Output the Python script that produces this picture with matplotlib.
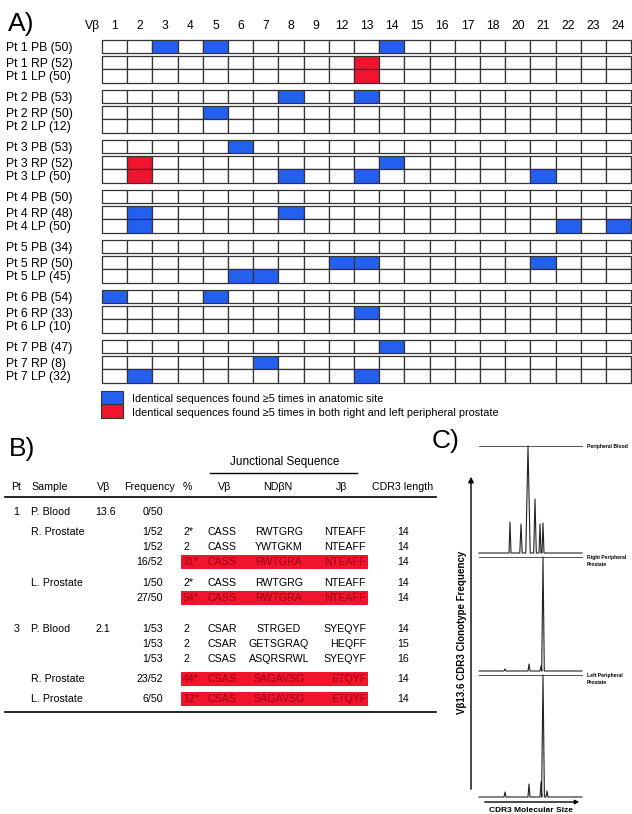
import matplotlib
matplotlib.use("Agg")
import matplotlib.pyplot as plt
from matplotlib.patches import Rectangle

plt.rcParams['font.family'] = ['Liberation Sans', 'DejaVu Sans']

# ---- panel A data ----
vb_labels = ["1", "2", "3", "4", "5", "6", "7", "8", "9", "12", "13", "14",
             "15", "16", "17", "18", "20", "21", "22", "23", "24"]
patients = ["1", "2", "3", "4", "5", "6", "7"]
sites = ["PB", "RP", "LP"]
n_seq = [[50, 52, 50], [53, 50, 12], [53, 52, 50], [50, 48, 50],
         [34, 50, 45], [54, 33, 10], [47, 8, 32]]
# Vβ families with identical sequences >=5 times in the anatomic site
blue_cells = [
    [["3", "5", "14"], [], []],
    [["8", "13"], ["5"], []],
    [["6"], ["14"], ["8", "13", "21"]],
    [[], ["2", "8"], ["2", "22", "24"]],
    [[], ["12", "13", "21"], ["6", "7"]],
    [["1", "5"], ["13"], []],
    [["14"], ["7"], ["2", "13"]],
]
# found in both right and left peripheral prostate
red_cells = [
    [[], ["13"], ["13"]],
    [[], [], []],
    [[], ["2"], ["2"]],
    [[], [], []],
    [[], [], []],
    [[], [], []],
    [[], [], []],
]
legend_labels = ["Identical sequences found \u22655 times in anatomic site",
                 "Identical sequences found \u22655 times in both right and left peripheral prostate"]

# ---- panel B data ----
tb_pt = ["1", "", "", "", "", "", "3", "", "", "", ""]
tb_sample = ["P. Blood", "R. Prostate", "", "", "L. Prostate", "", "P. Blood", "", "",
             "R. Prostate", "L. Prostate"]
tb_vb = ["13.6", "", "", "", "", "", "2.1", "", "", "", ""]
tb_freq = ["0/50", "1/52", "1/52", "16/52", "1/50", "27/50", "1/53", "1/53", "1/53",
           "23/52", "6/50"]
tb_pct = ["", "2*", "2", "31*", "2*", "54*", "2", "2", "2", "44*", "12*"]
tb_jv = ["", "CASS", "CASS", "CASS", "CASS", "CASS", "CSAR", "CSAR", "CSAS", "CSAS", "CSAS"]
tb_nd = ["", "RWTGRG", "YWTGKM", "RWTGRA", "RWTGRG", "RWTGRA", "STRGED", "GETSGRAQ",
         "ASQRSRWL", "SAGAVSG", "SAGAVSG"]
tb_jb = ["", "NTEAFF", "NTEAFF", "NTEAFF", "NTEAFF", "NTEAFF", "SYEQYF", "HEQFF",
         "SYEQYF", "ETQYF", "ETQYF"]
tb_cdr3 = ["", "14", "14", "14", "14", "14", "14", "15", "16", "14", "14"]
tb_shared = [False, False, False, True, False, True, False, False, False, True, True]

# ---- panel C data (peak position, height, half width) ----
pb_peaks = [(510, 31, 1.0), (521, 29, 1.2), (528, 107, 2.2), (535, 54, 1.3),
            (540, 29, 1.0), (543, 30, 1.0)]
rp_peaks = [(505, 2, 1.0), (529, 7, 1.0), (541, 5, 1.0), (543, 114, 1.3)]
lp_peaks = [(505, 5, 1.0), (529, 13, 1.0), (541, 15, 1.0), (543, 122, 1.4), (547, 6, 1.0)]

BLUE = "#2360f0"
RED = "#f0142d"

fig = plt.figure(figsize=(6.32, 8.14), dpi=100)
ax = fig.add_axes([0, 0, 1, 1])
ax.set_xlim(0, 632)
ax.set_ylim(814, 0)
ax.axis("off")

# ================= A =================
ax.text(8, 24, "A)", fontsize=19, va="center", ha="left")
x0, cw, rh = 102, 25.2, 13.4
row_off = [0, 16, 29.4]
ax.text(100, 26, "V\u03b2", fontsize=8.7, ha="right", va="center")
for c, v in enumerate(vb_labels):
    ax.text(x0 + (c + 0.5) * cw, 26, v, fontsize=8.7, ha="center", va="center")

for p, pt in enumerate(patients):
    for s, site in enumerate(sites):
        top = 40 + 50 * p + row_off[s]
        ax.text(6, top + rh / 2 + 1.3, f"Pt {pt} {site} ({n_seq[p][s]})", fontsize=8.7,
                ha="left", va="center")
        for c, v in enumerate(vb_labels):
            fc = "white"
            if v in blue_cells[p][s]:
                fc = BLUE
            if v in red_cells[p][s]:
                fc = RED
            ax.add_patch(Rectangle((x0 + c * cw, top), cw, rh, facecolor=fc,
                                   edgecolor="#333333", lw=0.9))

for i, (col, lab) in enumerate(zip([BLUE, RED], legend_labels)):
    ax.add_patch(Rectangle((101, 390.5 + i * 13.8), 22, 13.8, facecolor=col,
                           edgecolor="#333333", lw=0.8))
    ax.text(132, 399 + i * 14, lab, fontsize=7.8, ha="left", va="center")

# ================= B =================
ax.text(9, 449, "B)", fontsize=19, va="center", ha="left")
ax.text(285, 462, "Junctional Sequence", fontsize=8.5, ha="center", va="center")
ax.plot([210, 357], [472.5, 472.5], color="black", lw=1)
hy = 487
tfs = 7.7
ax.text(16.5, hy, "Pt", fontsize=tfs, ha="center", va="center")
ax.text(31, hy, "Sample", fontsize=tfs, ha="left", va="center")
ax.text(97, hy, "V\u03b2", fontsize=tfs, ha="left", va="center")
ax.text(150, hy, "Frequency", fontsize=tfs, ha="center", va="center")
ax.text(183, hy, "%", fontsize=tfs, ha="left", va="center")
ax.text(225, hy, "V\u03b2", fontsize=tfs, ha="center", va="center")
ax.text(278, hy, "ND\u03b2N", fontsize=tfs, ha="center", va="center")
ax.text(342, hy, "J\u03b2", fontsize=tfs, ha="center", va="center")
ax.text(403, hy, "CDR3 length", fontsize=tfs, ha="center", va="center")
ax.plot([5, 436], [497, 497], color="black", lw=1.2)
ax.plot([5, 436], [712, 712], color="black", lw=1.2)

row_y = [512, 532, 547, 562, 583, 598, 629, 644, 659, 679, 699]
for i, y in enumerate(row_y):
    tc = "black"
    if tb_shared[i]:
        ax.add_patch(Rectangle((181, y - 7), 187, 13.5, facecolor=RED, edgecolor="none"))
        tc = "#9a0010"
    ax.text(16.5, y, tb_pt[i], fontsize=tfs, ha="center", va="center")
    ax.text(31, y, tb_sample[i], fontsize=tfs, ha="left", va="center")
    ax.text(95, y, tb_vb[i], fontsize=tfs, ha="left", va="center")
    ax.text(163, y, tb_freq[i], fontsize=tfs, ha="right", va="center")
    ax.text(183, y, tb_pct[i], fontsize=tfs, ha="left", va="center", color=tc)
    ax.text(208, y, tb_jv[i], fontsize=tfs, ha="left", va="center", color=tc)
    ax.text(279, y, tb_nd[i], fontsize=tfs, ha="center", va="center", color=tc)
    ax.text(366, y, tb_jb[i], fontsize=tfs, ha="right", va="center", color=tc)
    ax.text(403, y, tb_cdr3[i], fontsize=tfs, ha="center", va="center")

# ================= C =================
ax.text(432, 441, "C)", fontsize=19, va="center", ha="left")
xl, xr = 479, 582
for y, lab in [(446, "Peripheral Blood"), (557, "Right Peripheral\nProstate"),
               (675, "Left Peripheral\nProstate")]:
    ax.plot([xl, xr], [y, y], color="#555555", lw=0.7)
    ax.text(587, y - 2, lab, fontsize=3.6, fontweight="bold", ha="left", va="top",
            linespacing=1.6)


def trace(peaks, base):
    xs, ys = [xl], [base]
    for px, h, w in sorted(peaks):
        xs += [px - w, px, px + w]
        ys += [base, base - h, base]
    xs.append(xr)
    ys.append(base)
    ax.plot(xs, ys, color="#222222", lw=0.8)


trace(pb_peaks, 553)
trace(rp_peaks, 671)
trace(lp_peaks, 797)

ax.annotate("", xy=(471, 474), xytext=(471, 792),
            arrowprops=dict(arrowstyle="-|>", color="black", lw=1, mutation_scale=8))
ax.annotate("", xy=(582, 802), xytext=(482, 802),
            arrowprops=dict(arrowstyle="-|>", color="black", lw=1, mutation_scale=6))
ax.text(462, 632, "V\u03b213.6 CDR3 Clonotype Frequency", fontsize=7, fontweight="bold",
        rotation=90, ha="center", va="center")
ax.text(531, 810, "CDR3 Molecular Size", fontsize=6, fontweight="bold",
        ha="center", va="center")

fig.savefig("out.png", dpi=100)
